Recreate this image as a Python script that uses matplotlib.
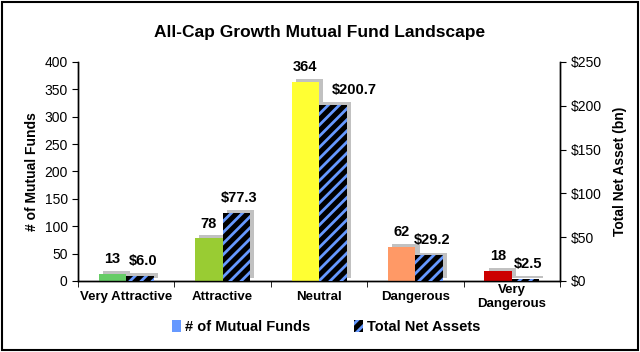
import numpy as np
import matplotlib
matplotlib.use("Agg")
import matplotlib.pyplot as plt
import matplotlib.patheffects as pe
from matplotlib.patches import Rectangle

plt.rcParams['font.family'] = ['Liberation Sans', 'DejaVu Sans']
plt.rcParams['hatch.linewidth'] = 2.0

categories = ["Very Attractive", "Attractive", "Neutral", "Dangerous", "Very\nDangerous"]
fund_counts = [13, 78, 364, 62, 18]
net_assets = [6.0, 77.3, 200.7, 29.2, 2.5]
count_colors = ["#66CC66", "#99CC33", "#FFFF33", "#FF9966", "#CC0000"]
left_ticks = [0, 50, 100, 150, 200, 250, 300, 350, 400]
right_ticks = [0, 50, 100, 150, 200, 250]

fig = plt.figure(figsize=(6.4, 3.52), dpi=100)
ax = fig.add_axes([0.122, 0.202, 0.753, 0.622])
ax2 = ax.twinx()

x = np.arange(len(categories))
w = 0.285
shadow = [pe.SimplePatchShadow(offset=(3, 2), shadow_rgbFace='#999999', alpha=0.6), pe.Normal()]

b1 = ax.bar(x - w / 2, fund_counts, w, color=count_colors, linewidth=0, zorder=3)
for b in b1:
    b.set_path_effects(shadow)
b2 = ax2.bar(x + w / 2, net_assets, w, color='black', linewidth=0, zorder=3)
for b in b2:
    b.set_path_effects(shadow)
ax2.bar(x + w / 2, net_assets, w, fill=False, edgecolor='#6699FF', hatch='///',
        linewidth=0, zorder=4)

for xi, v in zip(x, fund_counts):
    ax.text(xi - w / 2, v + 14, f"{v}", ha='center', va='bottom', fontsize=10.5, fontweight='bold')
for xi, v in zip(x, net_assets):
    # the tallest label sits beside the neutral bar, clear of the yellow one
    dx = 0.22 if v == max(net_assets) else 0.03
    ax2.text(xi + w / 2 + dx, v + 9, f"${v:.1f}", ha='center', va='bottom', fontsize=10.5,
             fontweight='bold')

ax.set_xlim(-0.5, len(categories) - 0.5)
ax.set_ylim(0, 400)
ax2.set_ylim(0, 250)
ax.set_yticks(left_ticks)
ax2.set_yticks(right_ticks)
ax2.set_yticklabels([f"${t}" for t in right_ticks])
ax.set_xticks(x)
ax.set_xticklabels(categories, fontsize=9.5, fontweight='bold', va='center', linespacing=1.15)
ax.tick_params(axis='x', length=0, pad=11.5)
ax.set_xticks(np.arange(-0.5, len(categories)), minor=True)
ax.tick_params(axis='x', which='minor', length=4, direction='out')
ax.tick_params(axis='y', labelsize=10, length=4)
ax2.tick_params(axis='y', labelsize=10, length=4)

ax.set_ylabel("# of Mutual Funds", fontsize=10, fontweight='bold')
ax2.set_ylabel("Total Net Asset (bn)", fontsize=10, fontweight='bold', labelpad=8)

for a in (ax, ax2):
    a.spines['top'].set_visible(False)
    for s in ('left', 'right', 'bottom'):
        a.spines[s].set_linewidth(1.0)

fig.suptitle("All-Cap Growth Mutual Fund Landscape", y=0.93, fontsize=12.5, fontweight='bold')

h1 = Rectangle((0, 0), 1, 1, facecolor='#6699FF', linewidth=0)
h2 = Rectangle((0, 0), 1, 1, facecolor='black', edgecolor='#6699FF', hatch='///', linewidth=0)
fig.legend([h1, h2], ["# of Mutual Funds", "Total Net Assets"], loc='center',
           bbox_to_anchor=(0.51, 0.07), ncol=2, frameon=False, handlelength=0.6, handleheight=0.9,
           columnspacing=3.0, handletextpad=0.3, prop={'weight': 'bold', 'size': 10.5})

fig.patches.append(Rectangle((0.003, 0.005), 0.994, 0.99, transform=fig.transFigure,
                             fill=False, edgecolor='black', linewidth=1.5))

fig.savefig("out.png", dpi=100)
